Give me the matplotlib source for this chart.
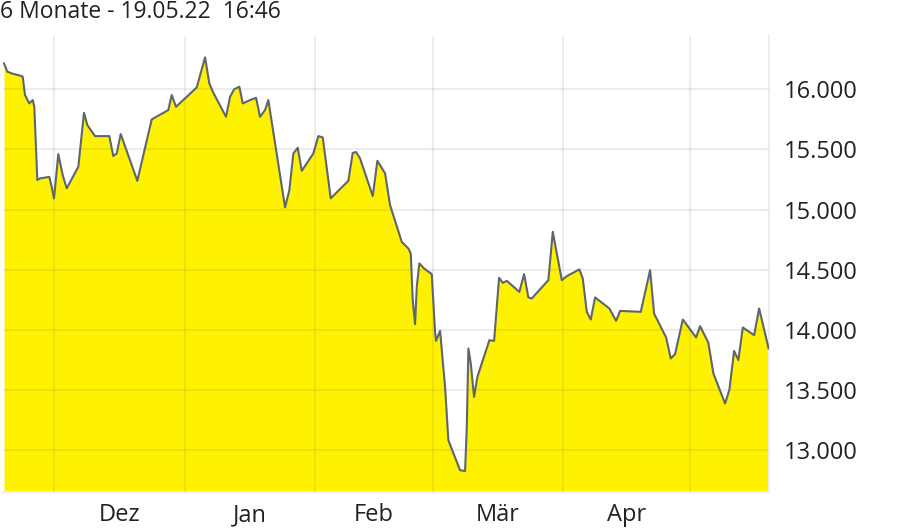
import matplotlib
matplotlib.use("Agg")
import matplotlib.pyplot as plt
import matplotlib.dates as mdates
from matplotlib.ticker import FuncFormatter, FixedLocator
import numpy as np
import pandas as pd

# Kursverlauf, 6 Monate (Tage seit 19.11.2021, Kurs)
start = pd.Timestamp("2021-11-19")
days = [0, 0.78, 1.83, 3.97, 4.45, 4.99, 6.02, 6.83, 7.21, 7.92,
        8.56, 10.77, 11.34, 11.89, 12.91, 13.96, 14.91, 17.67, 19.02, 19.81,
        21.64, 25.04, 25.99, 26.80, 27.75, 31.70, 33.13, 35.12, 39.07, 39.88,
        40.90, 43.45, 45.83, 47.80, 48.82, 49.77, 52.79, 53.75, 54.70, 55.96,
        56.77, 58.50, 59.93, 60.88, 62.07, 62.85, 66.83, 67.85, 68.80, 69.85,
        70.80, 73.56, 74.74, 75.79, 77.69, 81.88, 82.92, 83.71, 84.66, 87.68,
        88.78, 90.61, 91.80, 94.58, 96.15, 96.72, 97.19, 97.74, 98.15, 98.76,
        99.88, 101.71, 102.50, 102.73, 103.69, 104.88, 105.66, 108.44, 109.63, 110.04,
        110.42, 110.99, 111.77, 112.56, 115.41, 116.53, 117.72, 118.60, 119.55, 122.54,
        123.66, 124.68, 125.49, 129.44, 130.49, 132.63, 133.82, 136.81, 137.62, 138.57,
        139.52, 140.55, 143.95, 145.54, 146.49, 151.41, 153.63, 154.58, 157.43, 158.55,
        159.57, 161.40, 164.57, 165.52, 167.49, 168.68, 171.46, 172.49, 173.60, 174.62,
        175.67, 178.36, 179.55, 181.81]
prices = [16216, 16147, 16133, 16113, 16105, 15953, 15883, 15911, 15855, 15245,
          15259, 15272, 15189, 15093, 15461, 15287, 15176, 15356, 15805, 15703,
          15611, 15611, 15445, 15467, 15628, 15239, 15453, 15750, 15828, 15953,
          15855, 15938, 16017, 16266, 16050, 15972, 15772, 15938, 16000, 16022,
          15883, 15911, 15930, 15772, 15828, 15911, 15018, 15162, 15467, 15514,
          15322, 15467, 15611, 15600, 15093, 15239, 15472, 15478, 15426, 15112,
          15406, 15301, 15037, 14731, 14676, 14635, 14246, 14046, 14357, 14552,
          14510, 14463, 13982, 13907, 13991, 13524, 13081, 12831, 12825, 13191,
          13844, 13719, 13441, 13608, 13913, 13907, 14432, 14390, 14407, 14315,
          14463, 14269, 14260, 14413, 14815, 14413, 14446, 14502, 14427, 14149,
          14085, 14269, 14177, 14074, 14157, 14149, 14496, 14135, 13936, 13761,
          13797, 14085, 13936, 14030, 13891, 13636, 13386, 13503, 13824, 13747,
          14019, 13955, 14177, 13844]
month_starts = ["2021-12-01", "2022-01-01", "2022-02-01", "2022-03-01", "2022-04-01", "2022-05-01"]
month_labels = ["Dez", "Jan", "Feb", "Mär", "Apr"]
y_ticks = [13000, 13500, 14000, 14500, 15000, 15500, 16000]
title = "6 Monate - 19.05.22  16:46"

plt.rcParams["font.family"] = ["Open Sans", "DejaVu Sans"]
text_col = "#222222"

t = start + pd.to_timedelta(days, unit="D")
x = mdates.date2num(t.to_pydatetime())
y = np.array(prices)

fig = plt.figure(figsize=(9, 5.28), dpi=100)
ax = fig.add_axes([3 / 900, 36 / 528, 766 / 900, 456 / 528])

ymin = 12650
ax.fill_between(x, y, ymin, color="#fff200", lw=0, zorder=1)
ax.plot(x, y, color="#5f656d", lw=1.5, zorder=3)

ax.set_xlim(mdates.date2num(start) - 0.24, mdates.date2num(start) + 181.9)
ax.set_ylim(ymin, 16444)

ms = mdates.date2num(pd.to_datetime(month_starts).to_pydatetime())
ax.xaxis.set_major_locator(FixedLocator(ms))
ax.xaxis.set_major_formatter(FuncFormatter(lambda v, p: ""))
ax.set_xticks((ms[:-1] + ms[1:]) / 2, minor=True)
ax.set_xticklabels(month_labels, minor=True)
ax.set_yticks(y_ticks)
ax.yaxis.set_major_formatter(FuncFormatter(lambda v, p: f"{v:,.0f}".replace(",", ".")))
ax.yaxis.tick_right()

ax.tick_params(axis="both", which="both", length=0, labelsize=17, colors=text_col)
ax.tick_params(axis="y", pad=11)
# month labels sit on a common baseline (J descends)
ax.tick_params(axis="x", which="minor", pad=21)
for lbl in ax.get_xticklabels(minor=True):
    lbl.set_verticalalignment("baseline")

ax.set_axisbelow(False)
ax.grid(True, which="major", color="#6e6e6e", alpha=0.12, lw=1.5)

for side in ["left", "top"]:
    ax.spines[side].set_visible(False)
for side in ["right", "bottom"]:
    ax.spines[side].set_color("#eeeeee")
    ax.spines[side].set_linewidth(1.5)

fig.text(0.0, 1 - 18 / 528, title, fontsize=16.5, color=text_col, va="baseline", ha="left")

fig.savefig("out.png", dpi=100)
